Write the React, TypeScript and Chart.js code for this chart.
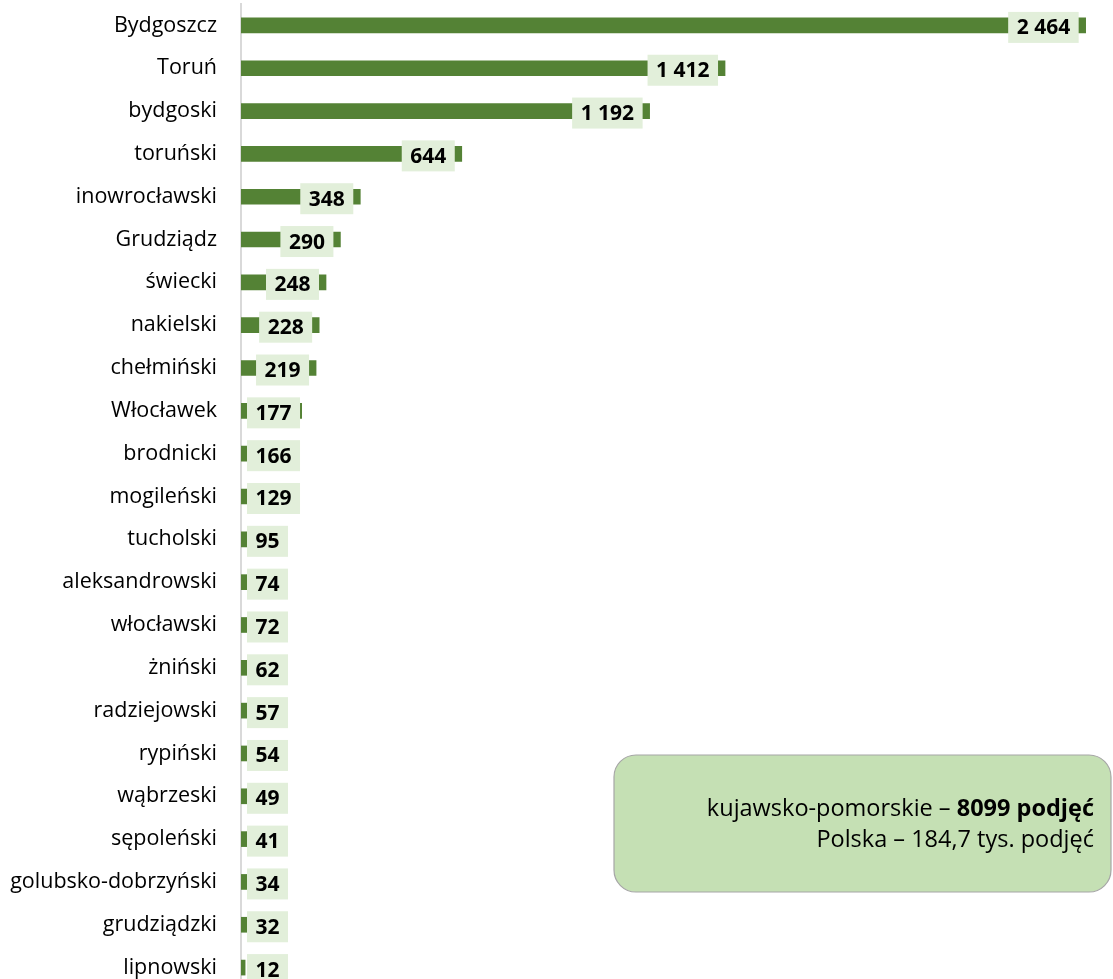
import React, { useEffect, useRef } from "react";
import { Chart, registerables } from "chart.js";

Chart.register(...registerables);

const categories = [
  "Bydgoszcz", "Toruń", "bydgoski", "toruński", "inowrocławski", "Grudziądz",
  "świecki", "nakielski", "chełmiński", "Włocławek", "brodnicki", "mogileński",
  "tucholski", "aleksandrowski", "włocławski", "żniński", "radziejowski",
  "rypiński", "wąbrzeski", "sępoleński", "golubsko-dobrzyński", "grudziądzki", "lipnowski",
];
const values = [2464, 1412, 1192, 644, 348, 290, 248, 228, 219, 177, 166, 129, 95, 74, 72, 62, 57, 54, 49, 41, 34, 32, 12];
const noteRegion = "kujawsko-pomorskie – ";
const noteRegionBold = "8099 podjęć";
const noteCountry = "Polska – 184,7 tys. podjęć";

const FONT = "'Open Sans', sans-serif";

function fmt(v: number): string {
  return String(v).replace(/\B(?=(\d{3})+(?!\d))/g, " ");
}

const labelPlugin = {
  id: "barLabels",
  afterDatasetsDraw(chart: any) {
    const ctx = chart.ctx;
    const meta = chart.getDatasetMeta(0);
    const left = chart.chartArea.left;
    ctx.save();
    ctx.font = `bold 21px ${FONT}`;
    ctx.textBaseline = "middle";
    ctx.textAlign = "center";
    meta.data.forEach((bar: any, i: number) => {
      const txt = fmt(values[i]);
      const w = ctx.measureText(txt).width + 17;
      const h = 31;
      let bx = bar.x - 7 - w;
      if (bx < left + 6) bx = left + 6;
      const cy = bar.y + 2;
      ctx.fillStyle = "#e2efda";
      ctx.fillRect(bx, cy - h / 2, w, h);
      ctx.fillStyle = "#000000";
      ctx.fillText(txt, bx + w / 2, cy + 1);
    });
    ctx.restore();
  },
  afterDraw(chart: any) {
    const ctx = chart.ctx;
    ctx.save();
    const x0 = 614, y0 = 755, x1 = 1111, y1 = 892, r = 22;
    ctx.beginPath();
    ctx.moveTo(x0 + r, y0);
    ctx.lineTo(x1 - r, y0);
    ctx.arcTo(x1, y0, x1, y0 + r, r);
    ctx.lineTo(x1, y1 - r);
    ctx.arcTo(x1, y1, x1 - r, y1, r);
    ctx.lineTo(x0 + r, y1);
    ctx.arcTo(x0, y1, x0, y1 - r, r);
    ctx.lineTo(x0, y0 + r);
    ctx.arcTo(x0, y0, x0 + r, y0, r);
    ctx.closePath();
    ctx.fillStyle = "#c5e0b4";
    ctx.fill();
    ctx.strokeStyle = "#a6a6a6";
    ctx.lineWidth = 1.2;
    ctx.stroke();

    const xr = 1094;
    ctx.textBaseline = "middle";
    ctx.textAlign = "right";
    ctx.fillStyle = "#000000";
    ctx.font = `bold 23.5px ${FONT}`;
    const bw = ctx.measureText(noteRegionBold).width;
    ctx.fillText(noteRegionBold, xr, 809);
    ctx.font = `23.5px ${FONT}`;
    ctx.fillText(noteRegion, xr - bw, 809);
    ctx.fillText(noteCountry, xr, 840);
    ctx.restore();
  },
};

export default function App() {
  const ref = useRef<HTMLCanvasElement>(null);
  useEffect(() => {
    document.body.style.margin = "0";
    if (!ref.current) return;
    const chart = new Chart(ref.current, {
      type: "bar",
      data: {
        labels: categories,
        datasets: [
          {
            data: values,
            backgroundColor: "#548235",
            barThickness: 15,
          },
        ],
      },
      options: {
        indexAxis: "y",
        responsive: false,
        animation: false,
        devicePixelRatio: 1,
        layout: { padding: { top: 4, right: 15, bottom: 6, left: 0 } },
        plugins: { legend: { display: false }, tooltip: { enabled: false } },
        scales: {
          x: { display: false, min: 0, max: 2500, grid: { display: false } },
          y: {
            grid: { display: false, drawTicks: false, tickLength: 0 },
            border: { display: true, color: "#d9d9d9", width: 2 },
            ticks: { color: "#000000", padding: 24, font: { family: FONT, size: 21.5 } },
            afterFit: (scale: any) => {
              scale.width = 241;
              scale.paddingTop = 0;
              scale.paddingBottom = 0;
            },
          },
        },
      },
      plugins: [labelPlugin],
    });
    return () => chart.destroy();
  }, []);
  return (
    <div style={{ width: 1113, height: 979, overflow: "hidden", position: "relative" }}>
      <canvas ref={ref} width={1113} height={995} style={{ display: "block" }} />
    </div>
  );
}
